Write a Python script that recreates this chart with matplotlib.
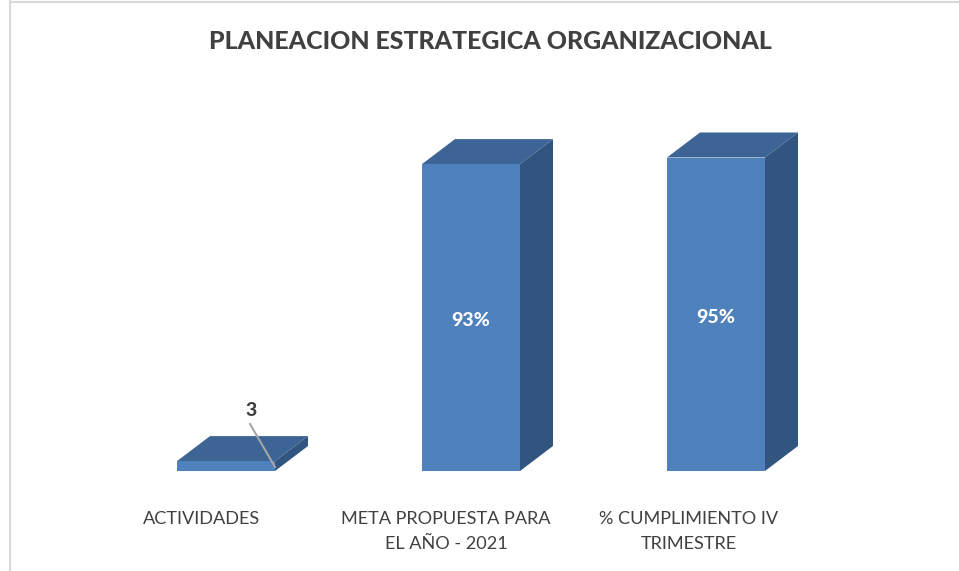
import matplotlib
matplotlib.use("Agg")
import matplotlib.pyplot as plt
from matplotlib.patches import Polygon
from matplotlib.lines import Line2D

categories = ["ACTIVIDADES", "META PROPUESTA PARA\nEL AÑO - 2021", "% CUMPLIMIENTO IV\nTRIMESTRE"]
values = [3, 93, 95]
value_labels = ["3", "93%", "95%"]
title = "PLANEACION ESTRATEGICA ORGANIZACIONAL"

W, H = 959, 571
X0, STEP, Y0, SCALE = 226, 245, 471, 3.3
BAR_W = 98 / STEP
DX = 33 / STEP
DY = 25 / SCALE
FRONT, TOP, SIDE = "#4F81BD", "#3C6494", "#325580"
TEXT = "#404040"

plt.rcParams["font.family"] = ["Lato", "DejaVu Sans"]
fig = plt.figure(figsize=(W / 100, H / 100), dpi=100, facecolor="white")
ax = fig.add_axes([0, 0, 1, 1])
ax.set_xlim(-X0 / STEP, (W - X0) / STEP)
ax.set_ylim((Y0 - H) / SCALE, Y0 / SCALE)
ax.axis("off")

def px(x, y):
    return (x - X0) / STEP, (Y0 - y) / SCALE

# outer frame of the chart area
ax.add_line(Line2D(*zip(px(10, 1.5), px(W, 1.5)), color="#D9D9D9", lw=1.5))
ax.add_line(Line2D(*zip(px(10, 1), px(10, H)), color="#D9D9D9", lw=1.5))

for i, v in enumerate(values):
    l, r = i - BAR_W / 2, i + BAR_W / 2
    ax.bar(i, v, width=BAR_W, color=FRONT, linewidth=0, zorder=3)
    ax.add_patch(Polygon([(l, v), (r, v), (r + DX, v + DY), (l + DX, v + DY)],
                         closed=True, fc=TOP, ec="none", zorder=2))
    ax.add_patch(Polygon([(r, 0), (r + DX, DY), (r + DX, v + DY), (r, v)],
                         closed=True, fc=SIDE, ec="none", zorder=2))

# value labels
lx, ly = px(251, 410.5)
ax.text(lx, ly, value_labels[0], ha="center", va="center", fontsize=14,
        fontweight="black", color=TEXT, zorder=5)
ax.text(1, px(0, 320.5)[1], value_labels[1], ha="center", va="center", fontsize=14,
        fontweight="black", color="white", zorder=5)
ax.text(2, px(0, 317.5)[1], value_labels[2], ha="center", va="center", fontsize=14,
        fontweight="black", color="white", zorder=5)

# leader line of the small bar
ax.add_line(Line2D(*zip(px(250, 424), px(275, 467)), color="#A6A6A6", lw=1.5, zorder=6))

# category labels
cat_x = [201.5, 446, 689]
for x, lab in zip(cat_x, categories):
    ax.text(px(x, 0)[0], px(0, 511)[1], lab, ha="center", va="top", fontsize=13.1,
            color=TEXT, linespacing=1.68)

ax.text(px(490.5, 0)[0], px(0, 41)[1], title, ha="center", va="center", fontsize=17.9,
        fontweight="black", color=TEXT)

fig.savefig("out.png", dpi=100, facecolor="white")
